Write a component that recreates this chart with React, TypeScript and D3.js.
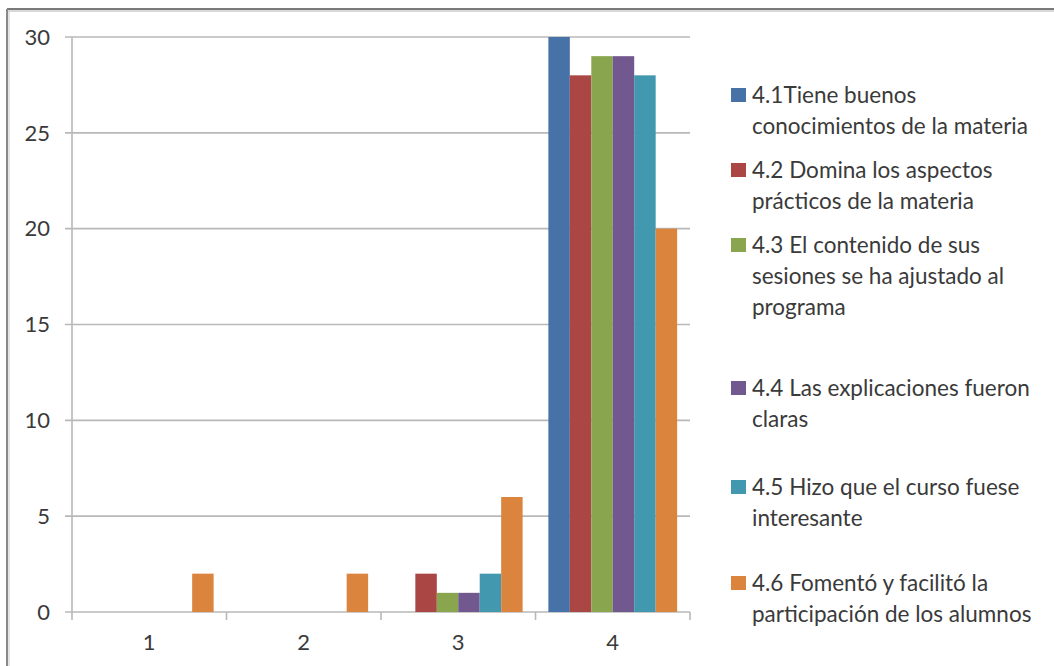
import React from "react";
import * as d3 from "d3";

const categories = ["1", "2", "3", "4"];
const seriesNames = [
  "4.1Tiene buenos conocimientos de la materia",
  "4.2 Domina los aspectos prácticos de la materia",
  "4.3 El contenido de sus sesiones se ha ajustado al programa",
  "4.4 Las explicaciones fueron claras",
  "4.5 Hizo que el curso fuese interesante",
  "4.6 Fomentó y facilitó la participación de los alumnos",
];
const legendLines = [
  ["4.1Tiene buenos", "conocimientos de la materia"],
  ["4.2 Domina los aspectos", "prácticos de la materia"],
  ["4.3 El contenido de sus", "sesiones se ha ajustado al", "programa"],
  ["4.4 Las explicaciones fueron", "claras"],
  ["4.5 Hizo que el curso fuese", "interesante"],
  ["4.6 Fomentó y facilitó la", "participación de los alumnos"],
];
const s41 = [0, 0, 0, 30];
const s42 = [0, 0, 2, 28];
const s43 = [0, 0, 1, 29];
const s44 = [0, 0, 1, 29];
const s45 = [0, 0, 2, 28];
const s46 = [2, 2, 6, 20];
const seriesValues = [s41, s42, s43, s44, s45, s46];
const colors = ["#4672A8", "#AA4643", "#89A54E", "#71588F", "#4198AF", "#DB843D"];
const yTicks = [0, 5, 10, 15, 20, 25, 30];

// layout
const legendItemY = [95, 170, 245, 388, 487, 583];

export default function App() {
  const left = 72, right = 690, top = 37, bottom = 612;
  const x = d3.scaleBand().domain(categories).range([left, right]).paddingInner(0).paddingOuter(0);
  const inner = d3.scaleBand().domain(seriesNames).range([0, x.bandwidth()]).paddingOuter(0.6).paddingInner(0);
  const y = d3.scaleLinear().domain([0, 30]).range([bottom, top]);
  const font = "Lato, 'Open Sans', sans-serif";
  const textColor = "#3a3a3a";
  const boundaries = [...categories.map((c) => x(c) as number), right];

  return (
    <svg width={1054} height={666} style={{ position: "absolute", left: 0, top: 0, background: "#fff" }}>
      {/* outer frame */}
      <line x1={7} x2={1054} y1={9} y2={9} stroke="#7a7a7a" strokeWidth={2} />
      <line x1={7} x2={1054} y1={11} y2={11} stroke="#d8d8d8" strokeWidth={2} />
      <line x1={7} x2={7} y1={9} y2={666} stroke="#8a8a8a" strokeWidth={2} />
      <line x1={9} x2={9} y1={10} y2={666} stroke="#dcdcdc" strokeWidth={1.5} />

      {/* gridlines */}
      {yTicks.map((t) => (
        <g key={t}>
          <line x1={left - 7} x2={right} y1={y(t)} y2={y(t)} stroke="#b8b8b8" strokeWidth={1.6} />
          <text x={50} y={y(t)} dy="0.35em" textAnchor="end" fontFamily={font} fontSize={22} fill={textColor}>
            {t}
          </text>
        </g>
      ))}
      {/* y axis */}
      <line x1={left} x2={left} y1={top} y2={bottom} stroke="#b8b8b8" strokeWidth={1.6} />
      {/* x tick marks */}
      {boundaries.map((b, i) => (
        <line key={i} x1={b} x2={b} y1={bottom} y2={bottom + 8} stroke="#b8b8b8" strokeWidth={1.6} />
      ))}
      {/* bars */}
      {categories.map((c, ci) => (
        <g key={c} transform={`translate(${x(c)},0)`}>
          {seriesNames.map((s, si) => {
            const v = seriesValues[si][ci];
            if (!v) return null;
            return (
              <rect
                key={s}
                x={inner(s)}
                y={y(v)}
                width={inner.bandwidth()}
                height={bottom - y(v)}
                fill={colors[si]}
              />
            );
          })}
          <text
            x={x.bandwidth() / 2}
            y={642}
            dy="0.35em"
            textAnchor="middle"
            fontFamily={font}
            fontSize={22}
            fill={textColor}
          >
            {c}
          </text>
        </g>
      ))}
      {/* legend */}
      {legendLines.map((lines, i) => (
        <g key={i}>
          <rect x={731} y={legendItemY[i] - 7} width={15} height={14} fill={colors[i]} />
          {lines.map((ln, li) => (
            <text
              key={li}
              x={752}
              y={legendItemY[i] + li * 31}
              dy="0.35em"
              fontFamily={font}
              fontSize={22.5}
              fill={textColor}
            >
              {ln}
            </text>
          ))}
        </g>
      ))}
    </svg>
  );
}
